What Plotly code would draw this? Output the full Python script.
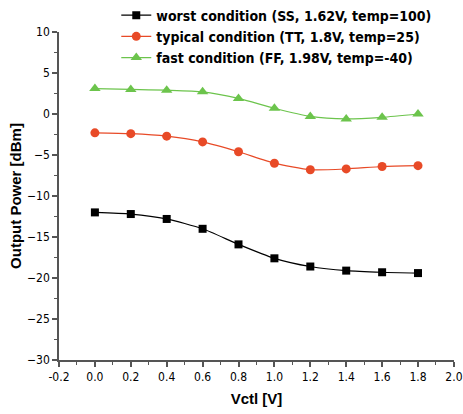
import plotly.graph_objects as go

vctl = [0.0, 0.2, 0.4, 0.6, 0.8, 1.0, 1.2, 1.4, 1.6, 1.8]
worst = [-12.0, -12.2, -12.8, -14.0, -15.9, -17.6, -18.6, -19.1, -19.3, -19.4]
typical = [-2.3, -2.4, -2.7, -3.4, -4.6, -6.0, -6.8, -6.7, -6.4, -6.3]
fast = [3.1, 3.0, 2.9, 2.7, 1.9, 0.7, -0.3, -0.6, -0.4, 0.0]
names = ["worst condition (SS, 1.62V, temp=100)",
         "typical condition (TT, 1.8V, temp=25)",
         "fast condition (FF, 1.98V, temp=-40)"]
xticks = [-0.2, 0.0, 0.2, 0.4, 0.6, 0.8, 1.0, 1.2, 1.4, 1.6, 1.8, 2.0]
xticklabels = ["-0.2", "0.0", "0.2", "0.4", "0.6", "0.8", "1.0", "1.2", "1.4", "1.6", "1.8", "2.0"]
yticks = [-30, -25, -20, -15, -10, -5, 0, 5, 10]

FONT = "DejaVu Sans Condensed, Liberation Sans, Arial"
TFONT = "Liberation Sans, Arial"

fig = go.Figure()
styles = [("#000000", "square", 8), ("#E84A27", "circle", 9), ("#6CC44C", "triangle-up", 10)]
for ys, nm, (c, sym, sz) in zip([worst, typical, fast], names, styles):
    fig.add_trace(go.Scatter(x=vctl, y=ys, name=nm, mode="lines+markers",
                             line=dict(color=c, width=1.2, shape="spline", smoothing=0.6),
                             marker=dict(symbol=sym, size=sz, color=c)))

fig.update_layout(
    width=463, height=414,
    margin=dict(l=59, r=9, t=32, b=54, autoexpand=False),
    plot_bgcolor="white", paper_bgcolor="white",
    font=dict(family=FONT, size=12, color="#000"),
    showlegend=True,
    legend=dict(x=0.145, y=1.099, xanchor="left", yanchor="top",
                bgcolor="rgba(0,0,0,0)", font=dict(family=FONT, size=14, color="#000", weight="bold"),
                tracegroupgap=0, itemsizing="trace"),
    xaxis=dict(range=[-0.2, 2.0005], tickvals=xticks, ticktext=xticklabels, automargin=False,
               showline=True, linecolor="#555", linewidth=1.5, ticks="outside", ticklen=5,
               tickcolor="#555", tickwidth=1.5, showgrid=False, zeroline=False,
               minor=dict(ticks="outside", dtick=0.1, ticklen=3, tickcolor="#555", tickwidth=1.2),
               tickfont=dict(size=12),
               title=dict(text="Vctl [V]", font=dict(family=TFONT, size=15, weight="bold"), standoff=10)),
    yaxis=dict(range=[-30, 10], tickvals=yticks, automargin=False,
               showline=True, linecolor="#555", linewidth=1.5, ticks="outside", ticklen=5,
               tickcolor="#555", tickwidth=1.5, showgrid=False, zeroline=False,
               minor=dict(ticks="outside", dtick=2.5, ticklen=3, tickcolor="#555", tickwidth=1.2),
               tickfont=dict(size=12),
               title=dict(text="Output Power [dBm]", font=dict(family=TFONT, size=15, weight="bold"), standoff=2)),
)
fig.write_html("out.html")
